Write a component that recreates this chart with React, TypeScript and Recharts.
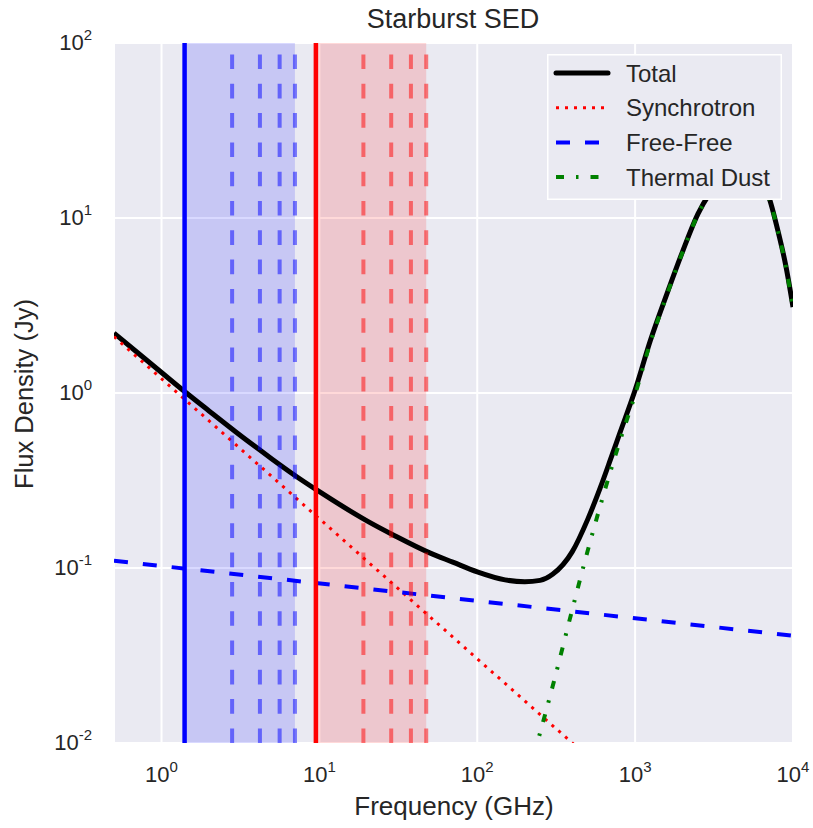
import { CartesianGrid, ComposedChart, Legend, Line, ReferenceArea, ReferenceLine, XAxis, YAxis } from "recharts"

document.body.style.margin = "0"

const FONT = "'Liberation Sans', Arial, sans-serif"
const INK = "#262626"

// Total SED (GHz, Jy)
const totalFreq = [0.5, 0.7, 1, 1.4, 2, 3, 5, 7, 10, 20, 30, 50, 70, 100, 150, 200, 250, 300, 400, 500, 600, 700, 800, 1000, 1250, 1600, 2000, 2500, 3000, 3500, 4000, 4600, 5000, 6000, 7000, 8000, 9000, 10000]
const totalFlux = [2.2, 1.71, 1.31, 1.02, 0.79, 0.593, 0.42, 0.338, 0.273, 0.186, 0.153, 0.122, 0.108, 0.095, 0.0855, 0.0835, 0.085, 0.092, 0.124, 0.189, 0.286, 0.42, 0.59, 1.04, 2.0, 3.75, 6.45, 10.55, 14.05, 16.95, 18.75, 19.55, 19.25, 16.85, 13.35, 8.55, 5.35, 3.1]

const syncFreq = [0.5, 1000]
const syncFlux = [2.1, 0.0048]

const ffFreq = [0.5, 10000]
const ffFlux = [0.11, 0.041]

const dustFreq = [200, 240, 300, 400, 500, 600, 700, 800, 1000, 1250, 1600, 2000, 2500, 3000, 3500, 4000, 4600, 5000, 6000, 7000, 8000, 9000, 10000]
const dustFlux = [0.0055, 0.01, 0.021, 0.058, 0.125, 0.225, 0.36, 0.53, 0.98, 1.95, 3.7, 6.4, 10.5, 14.0, 16.9, 18.7, 19.5, 19.2, 16.8, 13.3, 8.5, 5.3, 3.05]

// observing bands: fundamental + harmonics
const blueBand = [1.4, 7.0]
const blueHarmonics = [2.8, 4.2, 5.6, 7.0]
const redBand = [9.5, 47.5]
const redHarmonics = [19, 28.5, 38, 47.5]

const xTicks = [1, 10, 100, 1000, 10000]
const xTickExp = ["0", "1", "2", "3", "4"]
const yTicks = [0.01, 0.1, 1, 10, 100]
const yTickExp = ["-2", "-1", "0", "1", "2"]

const legendNames = ["Total", "Synchrotron", "Free-Free", "Thermal Dust"]
const legendColors = ["#000000", "#ff0000", "#0000ff", "#008000"]
const legendWidths = [5, 3, 4, 4]
const legendDash = [undefined, "3 6", "14 15", "8 12 2.5 12"]

const pts = (f: number[], s: number[]) => f.map((x, i) => ({ x, y: s[i] }))

const XTick = ({ x, payload }: any) => {
  const exp = xTickExp[xTicks.indexOf(payload.value)]
  return (
    <text x={x} y={782} textAnchor="middle" fontSize={22} fill={INK} fontFamily={FONT}>
      <tspan>10</tspan>
      <tspan dy={-10} fontSize={15}>{exp}</tspan>
    </text>
  )
}

const YTick = ({ y, payload }: any) => {
  const exp = yTickExp[yTicks.indexOf(payload.value)]
  return (
    <text x={92} y={y + 7} textAnchor="end" fontSize={22} fill={INK} fontFamily={FONT}>
      <tspan>10</tspan>
      <tspan dy={-10} fontSize={15}>{exp}</tspan>
    </text>
  )
}

const LegendBox = () => (
  <svg width={235} height={146} style={{ display: "block" }}>
    <rect x={0.75} y={0.75} width={233.5} height={144.5} fill="#EAEAF2" stroke="#ffffff" strokeWidth={1.5} />
    {legendNames.map((name, i) => {
      const cy = 19 + i * 34.7
      return (
        <g key={name}>
          <line x1={9} x2={61} y1={cy} y2={cy} stroke={legendColors[i]} strokeWidth={legendWidths[i]} strokeDasharray={legendDash[i]} strokeLinecap={i === 0 ? "round" : "butt"} />
          <text x={79} y={cy + 8.5} fontSize={24} fill={INK} fontFamily={FONT}>{name}</text>
        </g>
      )
    })}
  </svg>
)

export default function App() {
  return (
    <ComposedChart width={813} height={828} margin={{ top: 43, right: 20, bottom: 0, left: 14 }}>
      <CartesianGrid fill="#EAEAF2" stroke="#ffffff" strokeWidth={2} />
      <XAxis
        dataKey="x"
        type="number"
        scale="log"
        domain={[0.5, 10000]}
        allowDataOverflow
        ticks={xTicks}
        axisLine={false}
        tickLine={false}
        tick={<XTick />}
        height={85}
      />
      <YAxis
        type="number"
        scale="log"
        domain={[0.01, 100]}
        allowDataOverflow
        ticks={yTicks}
        axisLine={false}
        tickLine={false}
        tick={<YTick />}
        width={100}
      />
      <Line data={pts(totalFreq, totalFlux)} dataKey="y" type="monotone" stroke="#000000" strokeWidth={5} dot={false} isAnimationActive={false} />
      <Line data={pts(syncFreq, syncFlux)} dataKey="y" type="linear" stroke="#ff0000" strokeWidth={3} strokeDasharray="3 6" dot={false} isAnimationActive={false} />
      <Line data={pts(ffFreq, ffFlux)} dataKey="y" type="linear" stroke="#0000ff" strokeWidth={4} strokeDasharray="14 15" dot={false} isAnimationActive={false} />
      <Line data={pts(dustFreq, dustFlux)} dataKey="y" type="monotone" stroke="#008000" strokeWidth={4} strokeDasharray="8 12 2.5 12" dot={false} isAnimationActive={false} />
      <ReferenceArea x1={blueBand[0]} x2={blueBand[1]} fill="#0000ff" fillOpacity={0.15} stroke="none" />
      <ReferenceArea x1={redBand[0]} x2={redBand[1]} fill="#ff0000" fillOpacity={0.15} stroke="none" />
      {blueHarmonics.map((v) => (
        <ReferenceLine key={"b" + v} x={v} stroke="#0000ff" strokeOpacity={0.5} strokeWidth={4} strokeDasharray="14.6 14.7" />
      ))}
      {redHarmonics.map((v) => (
        <ReferenceLine key={"r" + v} x={v} stroke="#ff0000" strokeOpacity={0.5} strokeWidth={4} strokeDasharray="14.6 14.7" />
      ))}
      <ReferenceLine x={blueBand[0]} stroke="#0000ff" strokeWidth={4.5} />
      <ReferenceLine x={redBand[0]} stroke="#ff0000" strokeWidth={4.5} />
      <Legend layout="vertical" align="center" verticalAlign="middle" content={<LegendBox />} wrapperStyle={{ left: 547, top: 54, width: 235, height: 146 }} />
      <text x={453} y={28} textAnchor="middle" fontSize={27} fill={INK} fontFamily={FONT}>Starburst SED</text>
      <text x={454} y={815} textAnchor="middle" fontSize={26} fill={INK} fontFamily={FONT}>Frequency (GHz)</text>
      <text x={33} y={394} textAnchor="middle" fontSize={25.5} fill={INK} fontFamily={FONT} transform="rotate(-90 33 394)">Flux Density (Jy)</text>
    </ComposedChart>
  )
}
